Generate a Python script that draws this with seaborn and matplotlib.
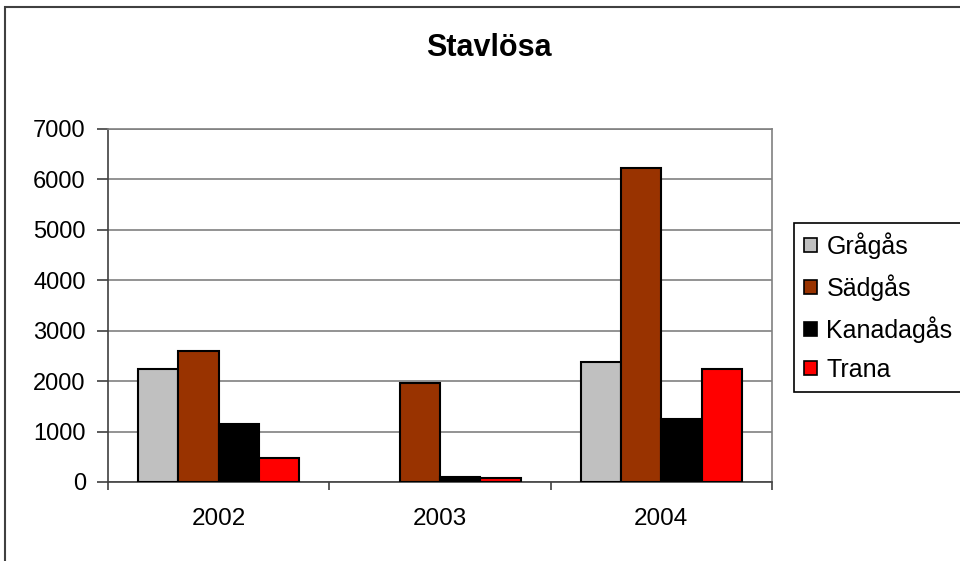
import matplotlib
matplotlib.use("Agg")
import matplotlib.pyplot as plt
from matplotlib.patches import Rectangle, Patch
import seaborn as sns
import pandas as pd

years = ["2002", "2003", "2004"]
species = ["Grågås", "Sädgås", "Kanadagås", "Trana"]
gragas = [2240, 0, 2370]
sadgas = [2600, 1970, 6230]
kanadagas = [1160, 90, 1250]
trana = [480, 80, 2250]
colors = ["#C0C0C0", "#993300", "#000000", "#FF0000"]
yticks = [0, 1000, 2000, 3000, 4000, 5000, 6000, 7000]

rows = []
for name, vals in zip(species, [gragas, sadgas, kanadagas, trana]):
    for yr, v in zip(years, vals):
        rows.append({"År": yr, "Art": name, "Antal": v})
df = pd.DataFrame(rows)

sns.set_theme(style="white")
plt.rcParams["font.family"] = ["Liberation Sans", "DejaVu Sans"]
plt.rcParams["text.color"] = "black"
plt.rcParams["xtick.color"] = "black"
plt.rcParams["ytick.color"] = "black"

fig = plt.figure(figsize=(9.6, 5.61), dpi=100)
ax = fig.add_axes([108 / 960, 1 - 482 / 561, (772 - 108) / 960, (482 - 129) / 561])

sns.barplot(data=df, x="År", y="Antal", hue="Art", order=years, hue_order=species,
            palette=colors, width=0.73, gap=0, edgecolor="black", linewidth=1.5,
            saturation=1, ax=ax, legend=False, zorder=3)

# empty counts draw no outline
for bar in ax.patches:
    if bar.get_height() == 0:
        bar.set_linewidth(0)

ax.set_xlim(-0.5, 2.5)
ax.set_ylim(0, 7000)
ax.set_yticks(yticks)
ax.set_yticklabels([str(t) for t in yticks], fontsize=17)
ax.set_xlabel("")
ax.set_ylabel("")
ax.yaxis.grid(True, color="#808080", linewidth=1.2, zorder=0)
ax.set_axisbelow(True)

# category labels centred, tick marks on the category boundaries
ax.set_xticks(range(len(years)))
ax.set_xticklabels(years, fontsize=17.5)
ax.tick_params(axis="x", which="major", length=0, pad=19)
ax.set_xticks([-0.5, 0.5, 1.5, 2.5], minor=True)
ax.tick_params(axis="x", which="minor", length=6, width=1.2, color="#404040", bottom=True)
ax.tick_params(axis="y", length=8, width=1.2, color="#404040", left=True, pad=8)

for side in ["left", "bottom"]:
    ax.spines[side].set_color("#404040")
    ax.spines[side].set_linewidth(1.2)
for side in ["top", "right"]:
    ax.spines[side].set_color("#808080")
    ax.spines[side].set_linewidth(1.2)

fig.text(489 / 960, 1 - 48 / 561, "Stavlösa", ha="center", va="center",
         fontsize=22, fontweight="bold")

# outer chart frame
fig.patches.append(Rectangle((4.5 / 960, -0.05), 1.1, 1 - 7 / 561 + 0.05,
                             transform=fig.transFigure, fill=False,
                             edgecolor="#404040", linewidth=1.5))

handles = [Patch(facecolor=c, edgecolor="black", linewidth=1.2) for c in colors]
leg = fig.legend(handles, species, loc="upper left",
                 bbox_to_anchor=(794 / 960, 1 - 222.5 / 561),
                 fontsize=18, frameon=True, fancybox=False, framealpha=1,
                 edgecolor="black", handlelength=0.5, handleheight=0.5,
                 handletextpad=0.4, labelspacing=0.6, borderpad=0.4,
                 borderaxespad=0)
leg.get_frame().set_linewidth(1.2)

fig.savefig("out.png", dpi=100)
